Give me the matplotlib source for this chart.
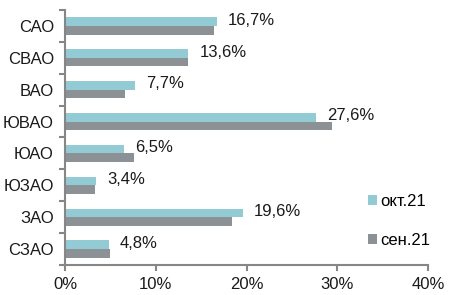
import matplotlib.pyplot as plt
import numpy as np
from matplotlib.ticker import FixedLocator, PercentFormatter

plt.rcParams['font.family'] = ['Liberation Sans', 'DejaVu Sans']

districts = ['САО', 'СВАО', 'ВАО', 'ЮВАО', 'ЮАО', 'ЮЗАО', 'ЗАО', 'СЗАО']
oct21 = [16.7, 13.6, 7.7, 27.6, 6.5, 3.4, 19.6, 4.8]
sep21 = [16.4, 13.5, 6.6, 29.4, 7.6, 3.3, 18.4, 4.95]
series_names = ['окт.21', 'сен.21']

oct_color = '#92cbd3'
sep_color = '#8c9196'
axis_color = '#868686'
text_color = '#1a1a1a'
fs = 12

fig = plt.figure(figsize=(4.72, 2.95), dpi=100)
ax = fig.add_axes([0.1377, 0.1017, 0.7695, 0.8644])

y = np.arange(len(districts))
h = 0.27
ax.barh(y - h / 2, oct21, height=h, color=oct_color, label=series_names[0])
ax.barh(y + h / 2, sep21, height=h, color=sep_color, label=series_names[1])

# labels only for the October series, like in the source report
for yi, v in zip(y, oct21):
    label = f'{v:.1f}%'.replace('.', ',')
    ax.annotate(label, (v, yi - h / 2), xytext=(8, 1), textcoords='offset points',
                va='center', ha='left', fontsize=fs, color=text_color)

ax.set_xlim(0, 40)
ax.set_ylim(len(districts) - 0.5, -0.5)
ax.set_xticks([0, 10, 20, 30, 40])
ax.xaxis.set_major_formatter(PercentFormatter(decimals=0))
ax.set_yticks(y)
ax.set_yticklabels(districts)
ax.yaxis.set_minor_locator(FixedLocator(np.arange(-0.5, len(districts), 1.0)))

for s in ['top', 'right']:
    ax.spines[s].set_visible(False)
for s in ['left', 'bottom']:
    ax.spines[s].set_color(axis_color)
    ax.spines[s].set_linewidth(1.5)

ax.tick_params(axis='y', which='major', length=0, pad=8, labelsize=fs, labelcolor=text_color)
ax.tick_params(axis='y', which='minor', length=4, width=1.5, color=axis_color)
ax.tick_params(axis='x', length=4, width=1.5, color=axis_color, pad=5, labelsize=fs,
               labelcolor=text_color)

ax.legend(loc='upper left', bbox_to_anchor=(0.834, 0.278), frameon=False, fontsize=fs,
          handlelength=0.55, handleheight=0.55, handletextpad=0.2, labelspacing=1.45,
          borderaxespad=0, borderpad=0)

fig.savefig('out.png', dpi=100)
